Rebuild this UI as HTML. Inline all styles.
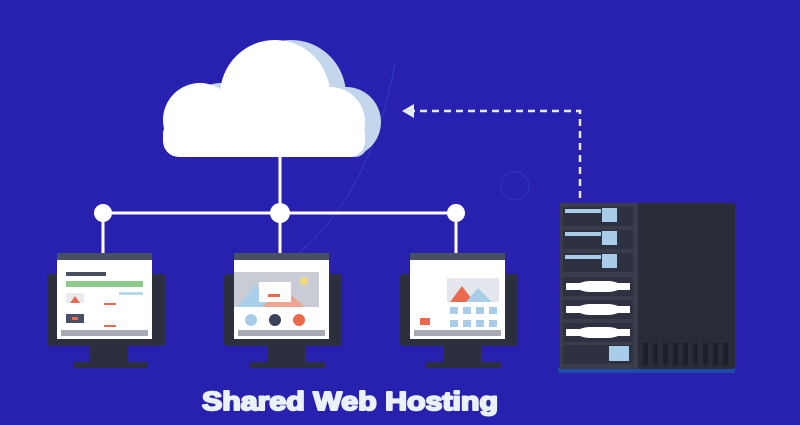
<!DOCTYPE html>
<html><head><style>html,body{margin:0;padding:0;background:#2820ae;width:800px;height:425px;overflow:hidden}</style></head>
<body>
<svg width="800" height="425" viewBox="0 0 800 425" xmlns="http://www.w3.org/2000/svg">
<rect width="800" height="425" fill="#2820ae"/>
<path d="M395 63 Q370 200 290 260" stroke="#3a4fd0" stroke-width="1" fill="none" opacity="0.6"/>
<circle cx="515" cy="186" r="14" stroke="#3a4fd0" fill="none" opacity="0.5"/>
<!-- cloud shadow -->
<g fill="#c4d6ec">
<circle cx="291" cy="95" r="55"/><circle cx="221" cy="120" r="37"/><circle cx="346" cy="122" r="35"/>
<rect x="221" y="118" width="146" height="39" rx="12"/>
</g>
<g fill="#fff">
<circle cx="275" cy="95" r="55"/><circle cx="200" cy="120" r="37"/><circle cx="330" cy="122" r="35"/>
<rect x="163" y="118" width="202" height="39" rx="16"/>
</g>
<!-- connectors -->
<g stroke="#fff" stroke-width="3">
<line x1="280" y1="157" x2="280" y2="213"/>
<line x1="103" y1="213" x2="456" y2="213"/>
<line x1="103" y1="213" x2="103" y2="255"/>
<line x1="280" y1="213" x2="280" y2="255"/>
<line x1="456" y1="213" x2="456" y2="255"/>
</g>
<g fill="#fff"><circle cx="103" cy="213" r="9"/><circle cx="280" cy="213" r="10"/><circle cx="456" cy="213" r="9"/></g>
<path d="M580 198 V111 H410" stroke="#e6ecf6" stroke-width="2.5" fill="none" stroke-dasharray="7 5"/>
<path d="M402 111 L414 104 L414 118 Z" fill="#e6ecf6"/>
<!-- monitors -->
<g id="m1">
<rect x="47" y="274" width="118" height="72" rx="3" fill="#2c2f3e"/>
<rect x="90" y="346" width="38" height="17" fill="#2c2f3e"/>
<rect x="73" y="362" width="75" height="6" rx="2" fill="#2c2f3e"/>
<rect x="57" y="253" width="95" height="86" fill="#fff"/>
<rect x="57" y="253" width="95" height="7" fill="#4a5064"/>
<rect x="61" y="330" width="87" height="6" fill="#a7a9b3"/>
</g>
<g fill="#4a5064"><rect x="66" y="272" width="40" height="4"/></g>
<rect x="66" y="281" width="77" height="6" fill="#8cc98a"/>
<rect x="66" y="293" width="18" height="10" fill="#e8ecf2"/><path d="M70 303 L75 296 L80 303Z" fill="#ea6a4e"/>
<rect x="119" y="292" width="24" height="3" fill="#bcd7e8"/>
<rect x="66" y="314" width="18" height="9" fill="#4a5064"/><rect x="72" y="317" width="6" height="3" fill="#ea6a4e"/>
<rect x="104" y="303" width="12" height="2" fill="#ea6a4e"/><rect x="104" y="325" width="12" height="2" fill="#ea6a4e"/>
<use href="#m1" x="177"/>
<rect x="234" y="272" width="85" height="35" fill="#c9ccd4"/>
<path d="M237 307 L255 285 L275 307Z" fill="#a9d0e8"/><path d="M262 307 L283 288 L305 307Z" fill="#eea48f"/>
<rect x="259" y="282" width="32" height="20" fill="#fff"/><rect x="268" y="294" width="12" height="3" fill="#ea6a4e"/>
<circle cx="304" cy="281" r="4" fill="#f2dc7a"/>
<circle cx="251" cy="320" r="6" fill="#a9cde8"/><circle cx="275" cy="320" r="6" fill="#3a4158"/><circle cx="299" cy="320" r="6" fill="#ea6a4e"/>
<use href="#m1" x="353"/>
<rect x="447" y="278" width="52" height="24" fill="#e4e8ee"/>
<path d="M450 302 L462 286 L474 302Z" fill="#ea6a4e"/><path d="M466 302 L478 288 L492 302Z" fill="#a9cde8"/>
<g fill="#a9cde8"><rect x="450" y="307" width="8" height="7"/><rect x="463" y="307" width="8" height="7"/><rect x="476" y="307" width="8" height="7"/><rect x="489" y="307" width="8" height="7"/>
<rect x="450" y="320" width="8" height="7"/><rect x="463" y="320" width="8" height="7"/><rect x="476" y="320" width="8" height="7"/><rect x="489" y="320" width="8" height="7"/></g>
<rect x="420" y="318" width="10" height="7" fill="#ea6a4e"/>
<!-- server -->
<rect x="558" y="368" width="177" height="5" fill="#1f4aa8"/>
<rect x="560" y="203" width="175" height="166" rx="3" fill="#2a2c38"/>
<rect x="560" y="203" width="78" height="166" fill="#3a3d4c"/>
<g id="u1">
<rect x="563" y="207" width="70" height="19" fill="#2e3140"/>
<rect x="565" y="209" width="36" height="4" fill="#a9cde8"/>
<rect x="602" y="208" width="15" height="14" fill="#a9cde8"/>
</g>
<use href="#u1" y="23"/><use href="#u1" y="46"/>
<g id="u2">
<rect x="563" y="277" width="70" height="19" fill="#2e3140"/>
<path d="M566 283 H580 Q585 281 590 281 H608 Q613 281 618 283 H630 V290 H618 Q613 292 608 292 H590 Q585 292 580 290 H566Z" fill="#fff"/>
</g>
<use href="#u2" y="23"/><use href="#u2" y="46"/>
<rect x="563" y="345" width="70" height="19" fill="#2e3140"/>
<rect x="609" y="346" width="20" height="15" fill="#a9cde8"/>
<g fill="#1e2029"><rect x="643" y="343" width="5" height="22"/><rect x="653" y="343" width="5" height="22"/><rect x="663" y="343" width="5" height="22"/><rect x="673" y="343" width="5" height="22"/><rect x="683" y="343" width="5" height="22"/><rect x="693" y="343" width="5" height="22"/><rect x="703" y="343" width="5" height="22"/><rect x="713" y="343" width="5" height="22"/><rect x="723" y="343" width="5" height="22"/></g>
<text x="202" y="410" textLength="296" lengthAdjust="spacingAndGlyphs" font-family="Liberation Sans, sans-serif" font-weight="bold" font-size="26" fill="#eaf2f8" stroke="#eaf2f8" stroke-width="2" stroke-linejoin="round">Shared Web Hosting</text>
</svg>
</body></html>
